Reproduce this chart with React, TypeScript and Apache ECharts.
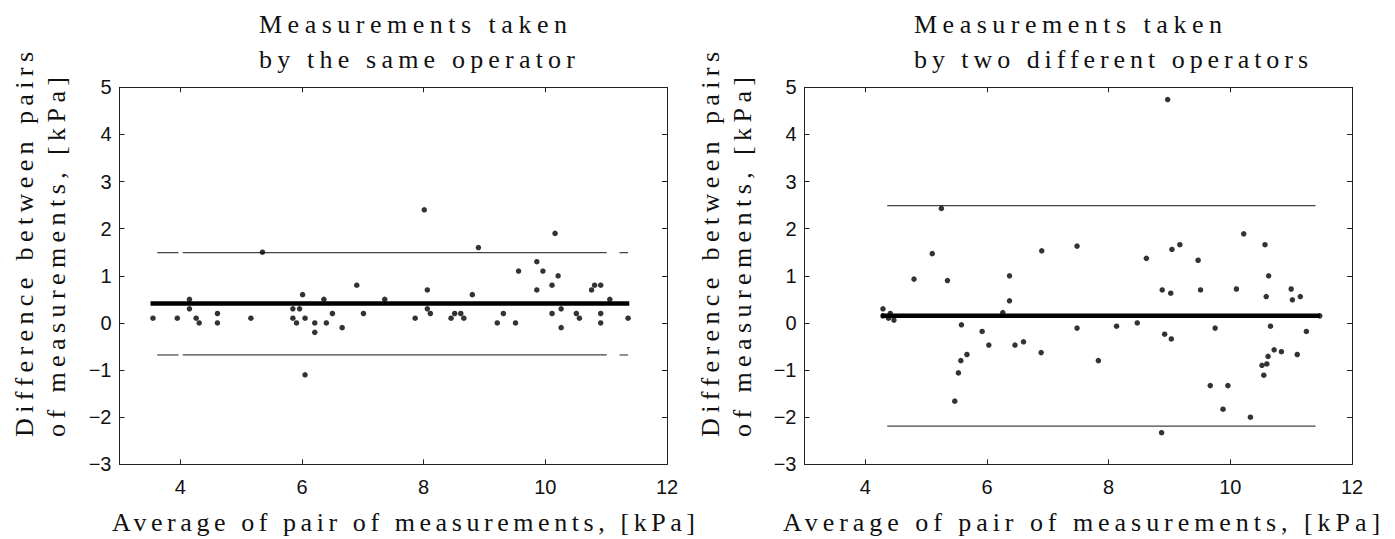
import React, { useEffect, useRef } from "react";
import * as echarts from "echarts";

// ---------- data ----------
const xTickValues = [4, 6, 8, 10, 12];

const leftX = [3.55, 3.95, 4.15, 4.15, 4.26, 4.31, 4.61, 4.61, 5.16, 5.35, 5.85, 5.96, 5.85, 5.91, 6.01, 6.05, 6.05, 6.21, 6.21, 6.36, 6.4, 6.5, 6.66, 6.9, 7.01, 7.36, 8.01, 7.86, 8.06, 8.06, 8.11, 8.45, 8.51, 8.61, 8.66, 8.8, 8.9, 9.21, 9.31, 9.51, 9.56, 9.86, 9.86, 9.96, 10.11, 10.11, 10.16, 10.21, 10.26, 10.26, 10.51, 10.56, 10.76, 10.81, 10.91, 10.91, 10.91, 11.06, 11.36];
const leftY = [0.1, 0.1, 0.5, 0.3, 0.1, 0.0, 0.2, 0.0, 0.1, 1.5, 0.3, 0.3, 0.1, 0.0, 0.6, 0.1, -1.1, 0.0, -0.2, 0.5, 0.0, 0.2, -0.1, 0.8, 0.2, 0.5, 2.4, 0.1, 0.7, 0.3, 0.2, 0.1, 0.2, 0.2, 0.1, 0.6, 1.6, 0.0, 0.2, 0.0, 1.1, 1.3, 0.7, 1.1, 0.8, 0.2, 1.9, 1.0, 0.3, -0.1, 0.2, 0.1, 0.7, 0.8, 0.8, 0.2, 0.0, 0.5, 0.1];

const rightX = [4.29, 4.29, 4.38, 4.41, 4.47, 4.8, 5.1, 5.25, 5.35, 5.47, 5.53, 5.57, 5.58, 5.67, 5.92, 6.03, 6.26, 6.37, 6.37, 6.46, 6.6, 6.89, 6.9, 7.48, 7.48, 7.83, 8.13, 8.47, 8.62, 8.87, 8.88, 8.92, 8.97, 9.02, 9.03, 9.04, 9.17, 9.47, 9.51, 9.67, 9.75, 9.88, 9.96, 10.1, 10.22, 10.33, 10.52, 10.55, 10.57, 10.59, 10.6, 10.62, 10.63, 10.66, 10.72, 10.84, 11.0, 11.02, 11.1, 11.15, 11.25, 11.47];
const rightY = [0.3, 0.15, 0.1, 0.2, 0.06, 0.93, 1.47, 2.43, 0.9, -1.66, -1.06, -0.8, -0.04, -0.67, -0.18, -0.47, 0.22, 1.0, 0.47, -0.47, -0.4, -0.63, 1.53, 1.63, -0.11, -0.8, -0.07, 0.0, 1.37, -2.33, 0.7, -0.24, 4.74, 0.63, -0.34, 1.56, 1.66, 1.33, 0.7, -1.33, -0.11, -1.83, -1.33, 0.72, 1.89, -2.0, -0.9, -1.11, 1.66, 0.56, -0.87, -0.71, 1.0, -0.07, -0.57, -0.61, 0.72, 0.49, -0.67, 0.56, -0.18, 0.15];

const leftMean = 0.41;
const leftUpper = 1.49;
const leftLower = -0.68;
const leftMeanRange = [3.51, 11.38];
const leftLimitSegments = [
  [3.62, 3.97],
  [4.04, 11.01],
  [11.22, 11.36],
];

const rightMean = 0.15;
const rightUpper = 2.49;
const rightLower = -2.19;
const rightMeanRange = [4.26, 11.47];
const rightLimitSegments = [[4.36, 11.4]];

const leftTitle = ["Measurements taken", "by the same operator"];
const rightTitle = ["Measurements taken", "by two different operators"];
const xName = "Average of pair of measurements, [kPa]";
const yName = ["Difference between pairs", "of measurements, [kPa]"];

// ---------- layout ----------
const GRIDS = [
  { left: 119.5, top: 87.3, width: 547.5, height: 377 },
  { left: 804.5, top: 87.3, width: 547.5, height: 377 },
];
const SERIF = '"Liberation Serif", "Times New Roman", serif';
const SANS = '"Liberation Sans", Arial, Helvetica, sans-serif';
const SERIF_SIZE = 26;

type Spaced = { text: string; width: number };

function serifText(list: Spaced[], text: string, x: number, y: number, width: number, rotate = false) {
  list.push({ text, width });
  return {
    type: "text",
    x,
    y,
    rotation: rotate ? Math.PI / 2 : 0,
    silent: true,
    style: {
      text,
      fill: "#111",
      font: `${SERIF_SIZE}px ${SERIF}`,
      fontSize: SERIF_SIZE,
      fontFamily: SERIF,
      align: "left",
      verticalAlign: "middle",
      textAlign: "left",
      textVerticalAlign: "middle",
    },
  };
}

function buildGraphics(list: Spaced[]) {
  const g: any[] = [];
  g.push(serifText(list, leftTitle[0], 259, 24.5, 308));
  g.push(serifText(list, leftTitle[1], 259, 59.5, 316));
  g.push(serifText(list, rightTitle[0], 914, 24.5, 308));
  g.push(serifText(list, rightTitle[1], 914, 59.5, 394));
  g.push(serifText(list, xName, 112, 522, 583));
  g.push(serifText(list, xName, 783, 522, 597));
  [0, 686].forEach((o) => {
    g.push(serifText(list, yName[0], 24 + o, 437, 385, true));
    g.push(serifText(list, yName[1], 56 + o, 437, 360, true));
  });
  return g;
}

function makeAxes() {
  const axisLine = { show: true, onZero: false, lineStyle: { color: "#222", width: 1 } };
  const xAxis: any[] = [];
  const yAxis: any[] = [];
  GRIDS.forEach((_, gi) => {
    ["bottom", "top"].forEach((pos) => {
      xAxis.push({
        type: "value",
        gridIndex: gi,
        position: pos,
        min: 3,
        max: 12,
        axisLine,
        splitLine: { show: false },
        axisTick: {
          show: true,
          inside: true,
          length: 5,
          customValues: xTickValues,
          lineStyle: { color: "#222" },
        },
        axisLabel: {
          show: pos === "bottom",
          customValues: xTickValues,
          margin: 13,
          fontFamily: SANS,
          fontSize: 20,
          color: "#111",
        },
      });
    });
    ["left", "right"].forEach((pos) => {
      yAxis.push({
        type: "value",
        gridIndex: gi,
        position: pos,
        min: -3,
        max: 5,
        interval: 1,
        axisLine,
        splitLine: { show: false },
        axisTick: { show: true, inside: true, length: 5, lineStyle: { color: "#222" } },
        axisLabel: {
          show: pos === "left",
          margin: 8,
          fontFamily: SANS,
          fontSize: 20,
          color: "#111",
          formatter: (v: number) => String(v).replace("-", "\u2212"),
        },
      });
    });
  });
  return { xAxis, yAxis };
}

function hLine(axisIdx: number, x0: number, x1: number, y: number, width: number, color: string) {
  return {
    type: "line",
    xAxisIndex: axisIdx,
    yAxisIndex: axisIdx,
    data: [
      [x0, y],
      [x1, y],
    ],
    symbol: "none",
    silent: true,
    lineStyle: { color, width },
    z: 2,
  };
}

function buildSeries() {
  const s: any[] = [];
  const plots = [
    { ax: 0, xs: leftX, ys: leftY, mean: leftMean, up: leftUpper, lo: leftLower, mr: leftMeanRange, segs: leftLimitSegments },
    { ax: 2, xs: rightX, ys: rightY, mean: rightMean, up: rightUpper, lo: rightLower, mr: rightMeanRange, segs: rightLimitSegments },
  ];
  plots.forEach((p) => {
    p.segs.forEach(([a, b]) => {
      s.push(hLine(p.ax, a, b, p.up, 1.2, "#444"));
      s.push(hLine(p.ax, a, b, p.lo, 1.2, "#444"));
    });
    s.push(hLine(p.ax, p.mr[0], p.mr[1], p.mean, 4.5, "#000"));
    s.push({
      type: "scatter",
      xAxisIndex: p.ax,
      yAxisIndex: p.ax,
      data: p.xs.map((x, i) => [x, p.ys[i]]),
      symbol: "circle",
      symbolSize: 5.5,
      itemStyle: { color: "#000" },
      silent: true,
      z: 3,
    });
  });
  return s;
}

let measureCtx: CanvasRenderingContext2D | null = null;
function measure(text: string) {
  if (!measureCtx) {
    const c = document.createElement("canvas");
    measureCtx = c.getContext("2d");
  }
  if (!measureCtx) return 0;
  measureCtx.font = `${SERIF_SIZE}px ${SERIF}`;
  return measureCtx.measureText(text).width;
}

function applySpacing(root: HTMLElement, list: Spaced[]) {
  const nodes = Array.from(root.querySelectorAll("text")) as SVGTextElement[];
  const counts: Record<string, number> = {};
  list.forEach((t) => {
    const k = counts[t.text] || 0;
    counts[t.text] = k + 1;
    const matches = nodes.filter((n) => (n.textContent || "").trim() === t.text);
    const el = matches[k];
    if (!el) return;
    const natural = measure(t.text);
    if (!natural) return;
    const sp = (t.width - natural) / Math.max(1, t.text.length - 1);
    const v = `${sp.toFixed(2)}px`;
    if (el.getAttribute("letter-spacing") !== v) el.setAttribute("letter-spacing", v);
    el.style.setProperty("letter-spacing", v);
  });
}

export default function App() {
  const ref = useRef<HTMLDivElement>(null);
  useEffect(() => {
    if (!ref.current) return;
    const root = ref.current;
    const chart = echarts.init(root, undefined, { renderer: "svg" });
    const list: Spaced[] = [];
    const { xAxis, yAxis } = makeAxes();
    chart.setOption({
      animation: false,
      backgroundColor: "#fff",
      grid: GRIDS.map((g) => ({ ...g, containLabel: false })),
      xAxis,
      yAxis,
      series: buildSeries(),
      graphic: { elements: buildGraphics(list) },
    });
    const run = () => applySpacing(root, list);
    run();
    chart.on("finished", run);
    const timers: any[] = [0, 30, 100, 300, 600, 1000, 2000].map((d) => setTimeout(run, d));
    let raf = 0;
    let frames = 0;
    const loop = () => {
      run();
      if (++frames < 60) raf = requestAnimationFrame(loop);
    };
    raf = requestAnimationFrame(loop);
    return () => {
      timers.forEach((t) => clearTimeout(t));
      cancelAnimationFrame(raf);
      chart.dispose();
    };
  }, []);
  return (
    <div
      ref={ref}
      style={{ position: "absolute", left: 0, top: 0, width: 1395, height: 539, background: "#fff" }}
    />
  );
}
